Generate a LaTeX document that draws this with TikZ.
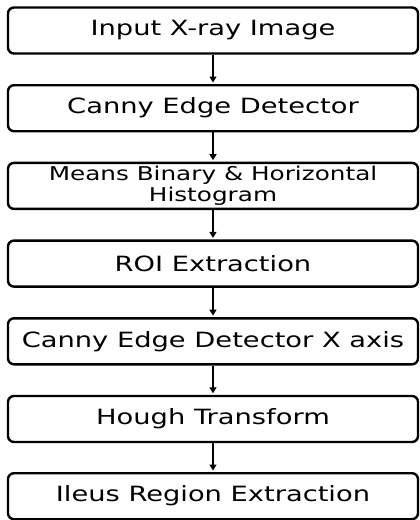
\documentclass[tikz,border=0pt]{standalone}
\usepackage{fontspec}
\setmainfont{DejaVu Sans}[FakeStretch=1.3]
\usetikzlibrary{arrows.meta}
\begin{document}
\begin{tikzpicture}[x=1pt,y=1pt,
  stepbox/.style={draw=black, line width=2.4pt, rounded corners=6pt,
    minimum width=410pt, minimum height=46pt, inner sep=0pt, align=center,
    font=\fontsize{21}{24}\selectfont},
  flow/.style={line width=1.3pt, -{Triangle[width=7pt,length=6pt]}, shorten >=1.5pt}]
\useasboundingbox (0,0) rectangle (420,-520);
\node[stepbox] (b1) at (213,-30.5) {Input X-ray Image};
\node[stepbox] (b2) at (213,-108.2) {Canny Edge Detector};
\node[stepbox, font=\fontsize{19}{21}\selectfont] (b3) at (213,-185.9) {Means Binary \& Horizontal\\Histogram};
\node[stepbox] (b4) at (213,-263.6) {ROI Extraction};
\node[stepbox] (b5) at (213,-341.3) {Canny Edge Detector X axis};
\node[stepbox] (b6) at (213,-419) {Hough Transform};
\node[stepbox] (b7) at (213,-496.2) {Ileus Region Extraction};
\draw[flow] (b1) -- (b2);
\draw[flow] (b2) -- (b3);
\draw[flow] (b3) -- (b4);
\draw[flow] (b4) -- (b5);
\draw[flow] (b5) -- (b6);
\draw[flow] (b6) -- (b7);
\end{tikzpicture}
\end{document}
